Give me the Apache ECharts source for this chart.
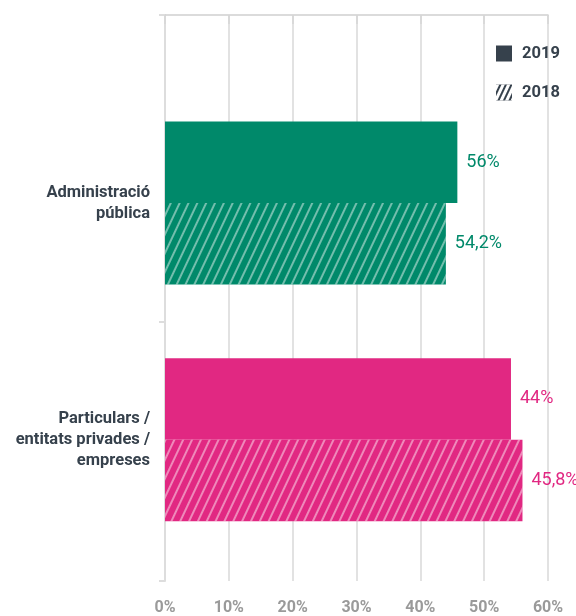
<!DOCTYPE html>
<html>
<head>
<meta charset="utf-8">
<script src="https://cdn.jsdelivr.net/npm/echarts@6/dist/echarts.min.js"></script>
<style>
  html, body { margin: 0; padding: 0; background: #fff; }
  #chart { width: 576px; height: 616px; }
</style>
</head>
<body>
<div id="chart"></div>
<script>
// categories (top to bottom)
const categories = ['Administració\npública', 'Particulars /\nentitats privades /\nempreses'];
const seriesNames = ['2019', '2018'];
// bar lengths as drawn against the axis
const values2019 = [45.8, 54.2];
const values2018 = [44, 56];
// printed labels
const labels2019 = ['56%', '44%'];
const labels2018 = ['54,2%', '45,8%'];
const categoryColors = ['#00896a', '#e12882'];
const xTickValues = [0, 10, 20, 30, 40, 50, 60];

const darkText = '#36414c';
const hatch = {
  symbol: 'rect',
  symbolSize: 1,
  dashArrayX: [1, 0],
  dashArrayY: [1.3, 5.2],
  rotation: -Math.PI * 0.36,
  color: 'rgba(255,255,255,0.45)'
};

let myChart = echarts.init(document.getElementById('chart'));

function barData (values) {
  return values.map(function (v, i) {
    return {
      value: v,
      itemStyle: { color: categoryColors[i] },
      label: { color: categoryColors[i] }
    };
  });
}

function makeSeries (name, values, labels, withHatch) {
  let itemStyle = { color: darkText };
  if (withHatch) itemStyle.decal = hatch;
  return {
    name: name,
    type: 'bar',
    xAxisIndex: 1,
    yAxisIndex: 1,
    barWidth: 81.5,
    barGap: '0%',
    itemStyle: itemStyle,
    data: barData(values),
    label: {
      show: true,
      position: 'right',
      distance: 9,
      fontFamily: 'Roboto',
      fontSize: 18,
      formatter: function (p) { return labels[p.dataIndex]; }
    },
    emphasis: { disabled: true }
  };
}

let option = {
  animation: false,
  legend: {
    orient: 'vertical',
    left: 491,
    top: 40,
    itemWidth: 16,
    itemHeight: 16,
    itemGap: 22,
    icon: 'rect',
    selectedMode: false,
    textStyle: {
      fontFamily: 'Roboto',
      fontWeight: 'bold',
      fontSize: 16.5,
      color: darkText,
      padding: [0, 0, 0, 5]
    },
    data: [
      { name: '2019', itemStyle: { color: darkText } },
      {
        name: '2018',
        itemStyle: {
          color: darkText,
          decal: { symbol: 'rect', symbolSize: 1, dashArrayX: [1, 0], dashArrayY: [2.2, 1.8], rotation: -Math.PI * 0.36, color: '#fff' }
        }
      }
    ]
  },
  grid: [
    // frame: axes and grid lines
    { left: 165, right: 28, top: 15, bottom: 35 },
    // bars
    { left: 165, right: 28, top: 84.5, bottom: 58 }
  ],
  xAxis: [{
    gridIndex: 0,
    type: 'value',
    min: 0,
    max: 60,
    interval: 10,
    axisLine: { show: true, lineStyle: { color: '#cfcfcf', width: 1.5 } },
    axisTick: { show: true, length: 9, lineStyle: { color: '#d6d6d6', width: 1.5 } },
    splitLine: { show: true, lineStyle: { color: '#d9d9d9', width: 1.5 } },
    axisLabel: {
      margin: 19,
      fontFamily: 'Roboto',
      fontWeight: 'bold',
      fontSize: 16,
      color: '#9a9a9a',
      formatter: function (v) { return xTickValues.indexOf(v) >= 0 ? v + '%' : ''; }
    }
  }, {
    gridIndex: 1,
    type: 'value',
    min: 0,
    max: 60,
    show: false
  }],
  yAxis: [{
    gridIndex: 0,
    type: 'value',
    inverse: true,
    min: 0,
    max: 566,
    interval: 307,
    axisLine: { show: true, lineStyle: { color: '#dddddd', width: 2 } },
    axisTick: { show: true, length: 6, lineStyle: { color: '#dddddd', width: 2 } },
    splitLine: { show: false },
    axisLabel: { show: false }
  }, {
    gridIndex: 1,
    type: 'category',
    inverse: true,
    data: categories,
    axisLine: { show: false },
    axisTick: { show: false },
    axisLabel: {
      margin: 15,
      align: 'right',
      fontFamily: 'Roboto',
      fontWeight: 'bold',
      fontSize: 16.5,
      lineHeight: 21,
      color: darkText
    }
  }],
  series: [
    makeSeries(seriesNames[0], values2019, labels2019, false),
    makeSeries(seriesNames[1], values2018, labels2018, true)
  ]
};
myChart.setOption(option);
</script>
</body>
</html>
